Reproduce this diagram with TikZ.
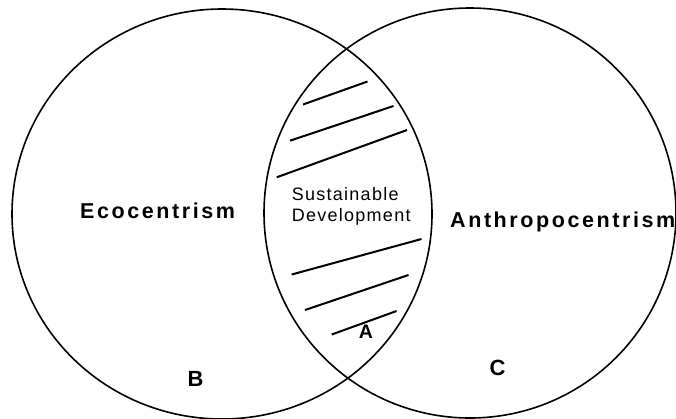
\documentclass[tikz,border=0pt]{standalone}
\usepackage{fontspec}
\setmainfont{Liberation Sans}
\newfontfamily\bigfont[LetterSpace=12]{Liberation Sans}
\newfontfamily\smallfont[LetterSpace=7]{Liberation Sans}
\begin{document}
\begin{tikzpicture}[x=1pt,y=-1pt,
  ring/.style={line width=1.6pt},
  hatch/.style={line width=2pt},
  bigtxt/.style={font=\bigfont\bfseries\fontsize{21.5}{26}\selectfont, inner sep=0pt, anchor=base west},
  smalltxt/.style={font=\smallfont\fontsize{18}{22}\selectfont, inner sep=0pt, anchor=base west},
  letter/.style={font=\bfseries\fontsize{22}{26}\selectfont, inner sep=0pt, anchor=base}]
\useasboundingbox (0,0) rectangle (676,418);
\fill[white] (0,0) rectangle (676,418);
\draw[ring] (222,214) ellipse [x radius=210pt, y radius=205pt];
\draw[ring] (470,213) ellipse [x radius=206pt, y radius=205pt];
% hatch lines
\draw[hatch] (303,104.5) -- (367.5,81.5);
\draw[hatch] (290,140.7) -- (393.5,106);
\draw[hatch] (276.7,177.3) -- (407,130);
\draw[hatch] (291.7,274.5) -- (421.5,239);
\draw[hatch] (305,310) -- (408.5,275);
\draw[hatch] (331.7,334.5) -- (396.6,311);
% labels
\node[bigtxt] (eco) at (80,218.3) {Ecocentrism};
\node[bigtxt] (anthro) at (450,227.3) {Anthropocentrism};
\node[smalltxt] (sus) at (291.7,200) {Sustainable};
\node[smalltxt] (dev) at (291.7,221.7) {Development};
\node[letter] (B) at (195.5,386) {B};
\node[letter] (C) at (497.5,375.7) {C};
\node[letter, font=\bfseries\fontsize{19.5}{24}\selectfont] (A) at (366,338.3) {A};
\end{tikzpicture}
\end{document}
